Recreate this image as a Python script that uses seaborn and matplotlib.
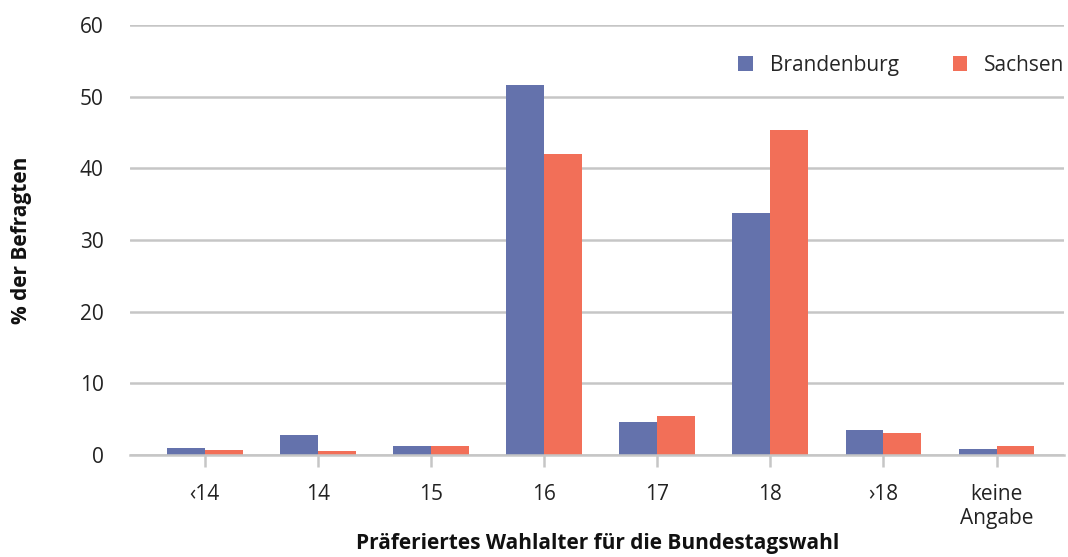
import matplotlib
matplotlib.use("Agg")
import matplotlib.pyplot as plt
import seaborn as sns
import pandas as pd

categories = ["‹14", "14", "15", "16", "17", "18", "›18", "keine\nAngabe"]
brandenburg = [1.0, 2.8, 1.2, 51.6, 4.6, 33.8, 3.5, 0.9]
sachsen = [0.7, 0.6, 1.2, 42.0, 5.5, 45.3, 3.1, 1.3]
series_names = ["Brandenburg", "Sachsen"]
colors = ["#6472AC", "#F26F58"]

df = pd.DataFrame({
    "Kategorie": categories * 2,
    "Wert": brandenburg + sachsen,
    "Land": [series_names[0]] * len(categories) + [series_names[1]] * len(categories),
})

sns.set_theme(style="white")
plt.rcParams["font.family"] = ["Open Sans", "DejaVu Sans"]

fig = plt.figure(figsize=(10.68, 5.57), dpi=100)
ax = fig.add_axes([0.1217, 0.183, 0.875, 0.772])

sns.barplot(data=df, x="Kategorie", y="Wert", hue="Land", order=categories,
            hue_order=series_names, palette=colors, width=0.67, saturation=1,
            linewidth=0, ax=ax, zorder=3)

ax.set_ylim(0, 60)
ax.set_yticks(range(0, 61, 10))
ax.set_xlim(-0.66, 7.6)
ax.grid(axis="y", color="#C6C6C6", linewidth=1.8, zorder=0)
ax.set_axisbelow(True)
for s in ["top", "right", "left"]:
    ax.spines[s].set_visible(False)
ax.spines["bottom"].set_color("#C6C6C6")
ax.spines["bottom"].set_linewidth(1.8)
ax.spines["bottom"].set_zorder(4)

ax.tick_params(axis="y", length=0, pad=19, labelsize=15, labelcolor="#222222")
ax.tick_params(axis="x", length=8.6, width=1.8, color="#C6C6C6", pad=12,
               labelsize=15, labelcolor="#222222", direction="out", bottom=True)

ax.set_xlabel("Präferiertes Wahlalter für die Bundestagswahl", fontsize=15,
              fontweight="bold", color="#111111", labelpad=3)
ax.set_ylabel("% der Befragten", fontsize=15, fontweight="bold",
              color="#111111", labelpad=34)

handles, labels = ax.get_legend_handles_labels()
ax.legend(handles, labels, loc="upper right", bbox_to_anchor=(1.02, 0.975),
          ncol=2, frameon=False, fontsize=15, handlelength=0.7,
          handleheight=0.7, columnspacing=2.6, handletextpad=0.8)

fig.savefig("out.png", dpi=100)
